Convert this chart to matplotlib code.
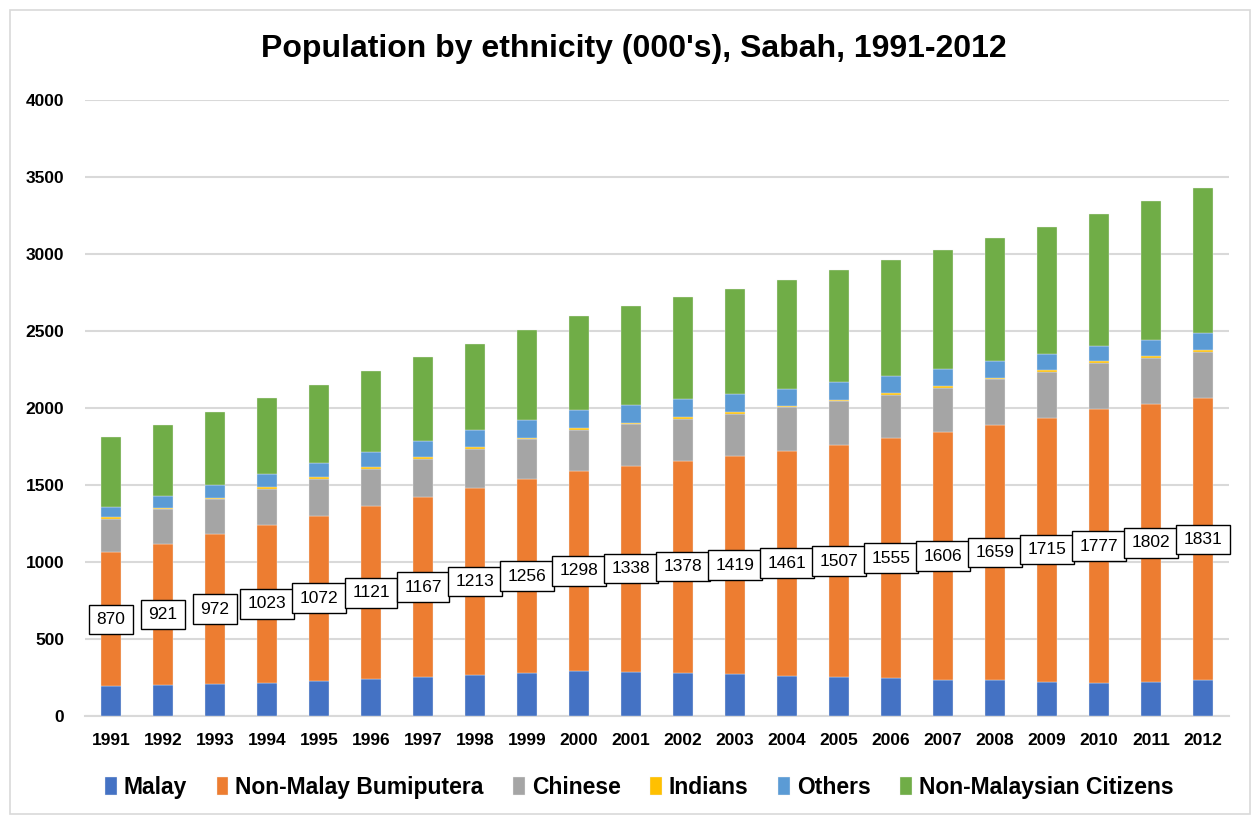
import matplotlib.pyplot as plt
import numpy as np
from matplotlib.patches import Rectangle

plt.rcParams['font.family'] = ['Liberation Sans', 'DejaVu Sans']

years = ['1991', '1992', '1993', '1994', '1995', '1996', '1997', '1998', '1999', '2000', '2001',
         '2002', '2003', '2004', '2005', '2006', '2007', '2008', '2009', '2010', '2011', '2012']

malay = [192, 199, 208, 216, 229, 240, 253, 268, 281, 294, 288,
         281, 271, 262, 253, 247, 236, 232, 223, 214, 223, 232]
non_malay_bumi = [870, 921, 972, 1023, 1072, 1121, 1167, 1213, 1256, 1298, 1338,
                  1378, 1419, 1461, 1507, 1555, 1606, 1659, 1715, 1777, 1802, 1831]
chinese = [218, 222, 227, 235, 240, 245, 251, 255, 260, 267, 267,
           271, 273, 281, 283, 283, 290, 295, 298, 301, 302, 303]
indians = [10, 10, 10, 10, 10, 10, 10, 10, 10, 10, 10,
           10, 10, 10, 10, 10, 10, 10, 10, 10, 10, 10]
others = [66, 75, 81, 85, 92, 98, 105, 110, 115, 117, 117,
          117, 116, 111, 113, 110, 108, 106, 105, 101, 107, 109]
non_citizens = [457, 465, 478, 494, 506, 526, 543, 562, 585, 614, 641,
                662, 684, 706, 728, 756, 778, 802, 827, 857, 898, 944]

series = [
    ('Malay', malay, '#4472C4'),
    ('Non-Malay Bumiputera', non_malay_bumi, '#ED7D31'),
    ('Chinese', chinese, '#A5A5A5'),
    ('Indians', indians, '#FFC000'),
    ('Others', others, '#5B9BD5'),
    ('Non-Malaysian Citizens', non_citizens, '#70AD47'),
]

fig = plt.figure(figsize=(12.56, 8.16), dpi=100)
ax = fig.add_axes([0.0677, 0.1225, 0.9108, 0.755])

# light frame around the chart
fig.patches.append(Rectangle((10 / 1256, 0.002), 1240 / 1256, 1 - 12 / 816,
                             transform=fig.transFigure, fill=False,
                             edgecolor='#d9d9d9', linewidth=1.2))

x = np.arange(len(years))
bottom = np.zeros(len(years))
for name, vals, col in series:
    vals = np.array(vals, dtype=float)
    ax.bar(x, vals, 0.4, bottom=bottom, color=col, label=name,
           edgecolor='#f2f2f2', linewidth=0.25, zorder=3)
    if name == 'Non-Malay Bumiputera':
        for xi, b, v in zip(x, bottom, vals):
            ax.text(xi, b + v / 2, str(int(v)), ha='center', va='center',
                    fontsize=12.5, zorder=5,
                    bbox=dict(boxstyle='square,pad=0.42', fc='white', ec='black', lw=1))
    bottom += vals

ax.set_xlim(-0.5, len(years) - 0.5)
ax.set_ylim(0, 4000)
ax.set_yticks(range(0, 4001, 500))
ax.set_xticks(x)
ax.set_xticklabels(years)
for lab in ax.get_xticklabels() + ax.get_yticklabels():
    lab.set_fontweight('bold')
    lab.set_fontsize(12.5)
ax.tick_params(length=0, pad=12)
ax.tick_params(axis='y', pad=15)
ax.grid(axis='y', color='#d9d9d9', linewidth=1.5, zorder=0)
for s in ['top', 'right', 'left']:
    ax.spines[s].set_visible(False)
ax.spines['bottom'].set_color('#d9d9d9')
ax.spines['bottom'].set_linewidth(1.5)

fig.suptitle("Population by ethnicity (000's), Sabah, 1991-2012", fontsize=23,
             fontweight='bold', x=0.505, y=0.958)

fig.legend(loc='center', bbox_to_anchor=(0.509, 0.035), ncol=6, frameon=False,
           prop={'weight': 'bold', 'size': 16.5}, handlelength=0.5, handleheight=0.8,
           handletextpad=0.3, columnspacing=1.3)

fig.savefig('out.png', dpi=100)
